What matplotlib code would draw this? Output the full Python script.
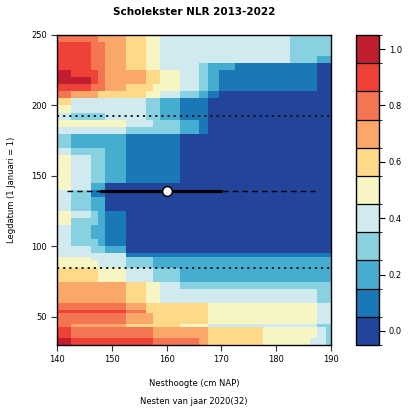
import numpy as np
import matplotlib
matplotlib.use("Agg")
import matplotlib.pyplot as plt
from matplotlib.colors import ListedColormap, BoundaryNorm

plt.rcParams['font.family'] = ['DejaVu Sans']

# ---- data (levels 0..10, 'A' = 10) ----
x_edges = [140, 142.5, 146.25, 147.5, 148.75, 152.5, 156.25, 157.5, 158.75, 162.5,
           166, 167.5, 169.5, 172.5, 175, 177.5, 180, 182.5, 186.25, 187.5, 189, 190]
y_edges = [250, 245, 240, 235, 230, 225, 220, 215, 210, 205, 200, 195, 190, 185, 180,
           175, 170, 165, 160, 155, 150, 145, 140, 135, 130, 125, 120, 115, 110, 105,
           100, 95, 92.5, 90, 85, 80, 75, 70, 65, 60, 55, 52.5, 50, 45, 42.5, 35, 30]
rows = [
    "888776554444444443333",
    "998876554444444443333",
    "998876554444444443333",
    "998876554444444443322",
    "998876554432211111100",
    "A99877665432111111100",
    "AA9877665432111111100",
    "998876655432111111100",
    "877666554321000000000",
    "644444332110000000000",
    "544444332110000000000",
    "433344332110000000000",
    "555554433210000000000",
    "444443333210000000000",
    "322221111000000000000",
    "322221111000000000000",
    "433321111000000000000",
    "543321111000000000000",
    "543321111000000000000",
    "543321111000000000000",
    "543321111000000000000",
    "542200000000000000000",
    "431100000000000000000",
    "432200000000000000000",
    "432200000000000000000",
    "543210000000000000000",
    "533210000000000000000",
    "432210000000000000000",
    "432210000000000000000",
    "433210000000000000000",
    "443320000000000000000",
    "444441111111111111111",
    "554443322222222222222",
    "555443322222222222222",
    "666554433222222222222",
    "666554433222222222222",
    "777776554333333333333",
    "777776554444444444433",
    "777776554444444444433",
    "888887666665555555544",
    "999998666665555555544",
    "888887766665555555544",
    "888887766665555555544",
    "877776666554444444433",
    "988888877776666555543",
    "A99999988876666555443",
]
cbar_ticks = [0.0, 0.2, 0.4, 0.6, 0.8, 1.0]
x_ticks = [140, 150, 160, 170, 180, 190]
y_ticks = [50, 100, 150, 200, 250]
ref_lines = [192.7, 85]
mean_x, mean_y = 160, 139
sd_range = [147.8, 170.1]
full_range = [141.8, 187.1]

colors = ['#23449b', '#1b78b6', '#45adcf', '#88d1e0', '#d0eaef', '#f7f6c2',
          '#fed98a', '#f9a86a', '#f47552', '#ee4238', '#c11f2f']

Z = np.array([[int(c, 16) / 10.0 for c in r] for r in rows])

cmap = ListedColormap(colors)
bounds = np.arange(-0.05, 1.1, 0.1)
norm = BoundaryNorm(bounds, cmap.N)

W, H = 408, 412
fig = plt.figure(figsize=(W / 100, H / 100), dpi=100)
ax = fig.add_axes([57 / W, 1 - 345 / H, 274 / W, 310 / H])
cax = fig.add_axes([356 / W, 1 - 345 / H, 23 / W, 310 / H])

mesh = ax.pcolormesh(x_edges, y_edges, Z, cmap=cmap, norm=norm, shading='flat')
ax.set_xlim(140, 190)
ax.set_ylim(30, 250)

for yl in ref_lines:
    ax.axhline(yl, color='#111111', linestyle=(0, (1.2, 2.2)), lw=1.3)

ax.plot(full_range, [mean_y, mean_y], color='black', linestyle=(0, (4, 3)), lw=1.0)
ax.plot(sd_range, [mean_y, mean_y], color='black', lw=2.3, solid_capstyle='butt')
ax.plot([mean_x], [mean_y], 'o', ms=7, mfc='white', mec='black', mew=1.0)

ax.set_xticks(x_ticks)
ax.set_yticks(y_ticks)
ax.tick_params(axis='both', direction='out', length=4, width=0.8, labelsize=6, pad=3, color='#333333')
for s in ax.spines.values():
    s.set_linewidth(1.0)

cb = fig.colorbar(mesh, cax=cax, ticks=cbar_ticks, drawedges=True)
cb.ax.set_yticklabels(['0.0', '0.2', '0.4', '0.6', '0.8', '1.0'])
cb.ax.tick_params(direction='out', length=4, width=0.8, labelsize=6, pad=3)
cb.dividers.set_color('black')
cb.dividers.set_linewidth(0.9)
cb.outline.set_linewidth(1.0)

fig.text(194 / W, 1 - 12 / H, "Scholekster NLR 2013-2022", ha='center', va='center',
         fontsize=7.5, fontweight='bold')
fig.text(194 / W, 1 - 383 / H, "Nesthoogte (cm NAP)", ha='center', va='center', fontsize=6)
fig.text(194 / W, 1 - 402 / H, "Nesten van jaar 2020(32)", ha='center', va='center', fontsize=6)
fig.text(12 / W, 1 - 190 / H, "Legdatum (1 Januari = 1)", ha='center', va='center',
         rotation=90, fontsize=6)

fig.savefig("out.png", dpi=100)
